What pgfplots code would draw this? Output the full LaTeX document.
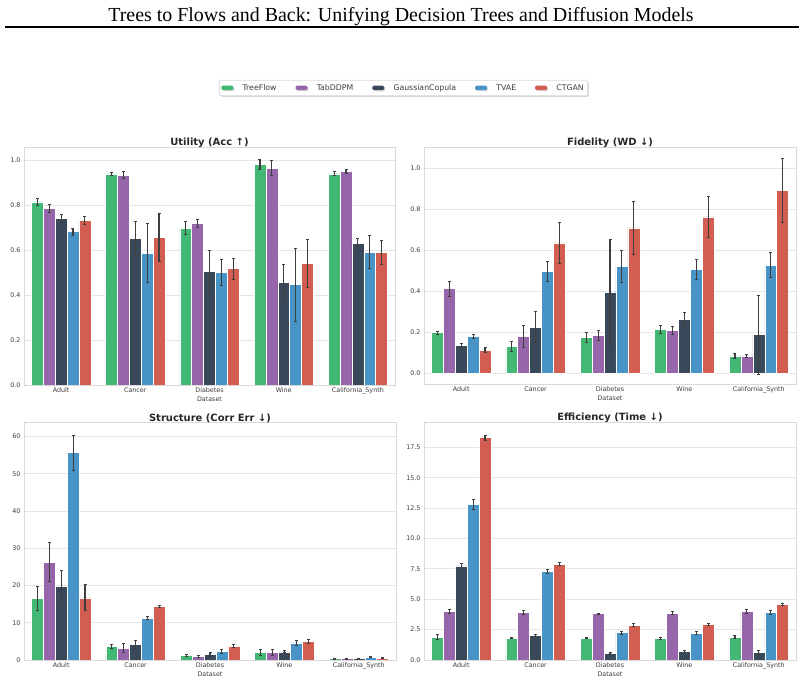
\documentclass[border=0pt]{standalone}
\usepackage{pgfplots}
\pgfplotsset{compat=1.18}
\usepackage{pgfplotstable}
\usepackage{fontspec}
\setmainfont{DejaVu Sans}
\newfontfamily\titlefont{Liberation Serif}
\usetikzlibrary{shadows}

\definecolor{cTF}{RGB}{66,184,116}
\definecolor{cTAB}{RGB}{150,101,170}
\definecolor{cGC}{RGB}{57,73,89}
\definecolor{cTV}{RGB}{73,148,198}
\definecolor{cCT}{RGB}{210,93,81}
\definecolor{errgray}{RGB}{62,62,62}
\definecolor{gridgray}{RGB}{228,228,228}
\definecolor{framegray}{RGB}{218,218,218}
\definecolor{ticktext}{RGB}{60,60,60}

% mean and error (std) per dataset: Adult, Cancer, Diabetes, Wine, California_Synth
\pgfplotstableread{
x tf tfe tab tabe gc gce tv tve ct cte
0 0.814 0.015 0.785 0.017 0.740 0.016 0.682 0.015 0.733 0.018
1 0.939 0.008 0.933 0.017 0.651 0.077 0.587 0.133 0.657 0.106
2 0.698 0.027 0.718 0.016 0.505 0.093 0.499 0.058 0.517 0.047
3 0.981 0.023 0.964 0.033 0.456 0.080 0.446 0.163 0.542 0.107
4 0.939 0.009 0.949 0.010 0.629 0.022 0.590 0.074 0.588 0.053
}\utility

\pgfplotstableread{
x tf tfe tab tabe gc gce tv tve ct cte
0 0.198 0.007 0.413 0.037 0.135 0.013 0.180 0.008 0.112 0.012
1 0.132 0.025 0.180 0.054 0.226 0.074 0.498 0.050 0.636 0.101
2 0.177 0.024 0.185 0.025 0.395 0.256 0.522 0.078 0.709 0.128
3 0.213 0.020 0.210 0.021 0.263 0.035 0.507 0.050 0.763 0.099
4 0.085 0.011 0.085 0.009 0.189 0.193 0.528 0.060 0.891 0.155
}\fidelity

\pgfplotstableread{
x tf tfe tab tabe gc gce tv tve ct cte
0 16.5 3.3 26.3 5.3 19.7 4.4 55.7 4.7 16.7 3.5
1 3.7 0.6 3.2 1.25 4.1 1.1 11.3 0.45 14.4 0.3
2 1.2 0.2 1.0 0.3 1.5 0.6 2.3 0.45 3.7 0.35
3 2.1 0.8 2.0 0.85 2.2 0.3 4.6 0.6 4.9 0.5
4 0.4 0.15 0.4 0.12 0.35 0.15 0.8 0.12 0.5 0.1
}\structure

\pgfplotstableread{
x tf tfe tab tabe gc gce tv tve ct cte
0 1.87 0.20 4.00 0.19 7.76 0.22 12.81 0.40 18.32 0.20
1 1.81 0.05 3.90 0.14 2.00 0.12 7.30 0.19 7.90 0.10
2 1.78 0.04 3.81 0.05 0.52 0.08 2.25 0.11 2.88 0.11
3 1.78 0.06 3.87 0.12 0.71 0.08 2.22 0.12 2.91 0.10
4 1.89 0.10 4.00 0.14 0.63 0.16 3.95 0.16 4.55 0.08
}\efficiency

\pgfplotsset{
  panel/.style={
    scale only axis,
    width=371bp, height=238bp,
    anchor=south west,
    xmin=-0.5, xmax=4.5,
    xtick={0,1,2,3,4},
    xticklabels={Adult,Cancer,Diabetes,Wine,California\_Synth},
    ybar=0pt, bar width=0.16,
    ymajorgrids, grid style={gridgray, line width=0.9bp},
    axis line style={framegray, line width=0.9bp},
    major tick length=0pt,
    tick label style={font=\fontsize{6.4}{7.5}\selectfont, text=ticktext},
    xticklabel style={yshift=1bp},
    yticklabel style={/pgf/number format/assume math mode=true},
    xlabel={Dataset},
    xlabel style={font=\fontsize{6.4}{7.5}\selectfont, text=ticktext, yshift=3.5bp},
    title style={font=\bfseries\fontsize{10}{12}\selectfont, text=black!85, yshift=-10bp},
  },
  bars/.style={
    fill=#1, draw=white, line width=0.5bp,
    error bars/.cd, y dir=both, y explicit,
    error bar style={errgray, line width=1.1bp},
    error mark options={errgray, line width=0.9bp, mark size=1.5bp, rotate=90},
    /pgfplots/.cd,
  },
}

\begin{document}
\begin{tikzpicture}
\path[use as bounding box] (0bp,0bp) rectangle (804bp,685bp);

\node[font=\titlefont\fontsize{20}{24}\selectfont] at (401bp,668.5bp)
  {Trees to Flows and Back: Unifying Decision Trees and Diffusion Models};
\draw[line width=1.1bp] (5bp,658bp) -- (799bp,658bp);

% Utility
\begin{axis}[panel, at={(24bp,300bp)},
  ymin=0, ymax=1.058, ytick={0,0.2,...,1.0},
  yticklabel style={/pgf/number format/.cd, fixed, fixed zerofill, precision=1},
  title={Utility (Acc ↑)},
  legend columns=5,
  legend style={at={(1.023,1.248)}, anchor=center,
    draw=framegray, line width=0.8bp, rounded corners=1.5bp, fill=white,
    drop shadow={shadow xshift=1.2bp, shadow yshift=-1.2bp, fill=black!30},
    font=\fontsize{7.8}{9}\selectfont, text=ticktext,
    inner xsep=2bp, inner ysep=2bp,
    /tikz/every even column/.append style={column sep=17bp}},
  legend image code/.code={%
    \fill[#1, draw=none] (0bp,-2.2bp) rectangle (12bp,2.4bp);
    \path (19bp,0bp);},
]
\addplot[bars=cTF] table[x=x, y=tf, y error=tfe] {\utility};
\addplot[bars=cTAB] table[x=x, y=tab, y error=tabe] {\utility};
\addplot[bars=cGC] table[x=x, y=gc, y error=gce] {\utility};
\addplot[bars=cTV] table[x=x, y=tv, y error=tve] {\utility};
\addplot[bars=cCT] table[x=x, y=ct, y error=cte] {\utility};
\legend{TreeFlow,TabDDPM,GaussianCopula,TVAE,CTGAN}
\end{axis}

% Fidelity
\begin{axis}[panel, at={(424bp,301bp)}, width=372bp, height=237bp,
  ymin=-0.052, ymax=1.104, ytick={0,0.2,...,1.0},
  yticklabel style={/pgf/number format/.cd, fixed, fixed zerofill, precision=1},
  title={Fidelity (WD ↓)},
]
\addplot[bars=cTF] table[x=x, y=tf, y error=tfe] {\fidelity};
\addplot[bars=cTAB] table[x=x, y=tab, y error=tabe] {\fidelity};
\addplot[bars=cGC] table[x=x, y=gc, y error=gce] {\fidelity};
\addplot[bars=cTV] table[x=x, y=tv, y error=tve] {\fidelity};
\addplot[bars=cCT] table[x=x, y=ct, y error=cte] {\fidelity};
\end{axis}

% Structure
\begin{axis}[panel, at={(24bp,25bp)}, width=372bp,
  ymin=0, ymax=63.9, ytick={0,10,...,60},
  title={Structure (Corr Err ↓)},
]
\addplot[bars=cTF] table[x=x, y=tf, y error=tfe] {\structure};
\addplot[bars=cTAB] table[x=x, y=tab, y error=tabe] {\structure};
\addplot[bars=cGC] table[x=x, y=gc, y error=gce] {\structure};
\addplot[bars=cTV] table[x=x, y=tv, y error=tve] {\structure};
\addplot[bars=cCT] table[x=x, y=ct, y error=cte] {\structure};
\end{axis}

% Efficiency
\begin{axis}[panel, at={(424bp,25bp)}, width=372bp,
  ymin=0, ymax=19.6, ytick={0,2.5,...,17.5},
  yticklabel style={/pgf/number format/.cd, fixed, fixed zerofill, precision=1},
  title={Efficiency (Time ↓)},
]
\addplot[bars=cTF] table[x=x, y=tf, y error=tfe] {\efficiency};
\addplot[bars=cTAB] table[x=x, y=tab, y error=tabe] {\efficiency};
\addplot[bars=cGC] table[x=x, y=gc, y error=gce] {\efficiency};
\addplot[bars=cTV] table[x=x, y=tv, y error=tve] {\efficiency};
\addplot[bars=cCT] table[x=x, y=ct, y error=cte] {\efficiency};
\end{axis}
\end{tikzpicture}
\end{document}
